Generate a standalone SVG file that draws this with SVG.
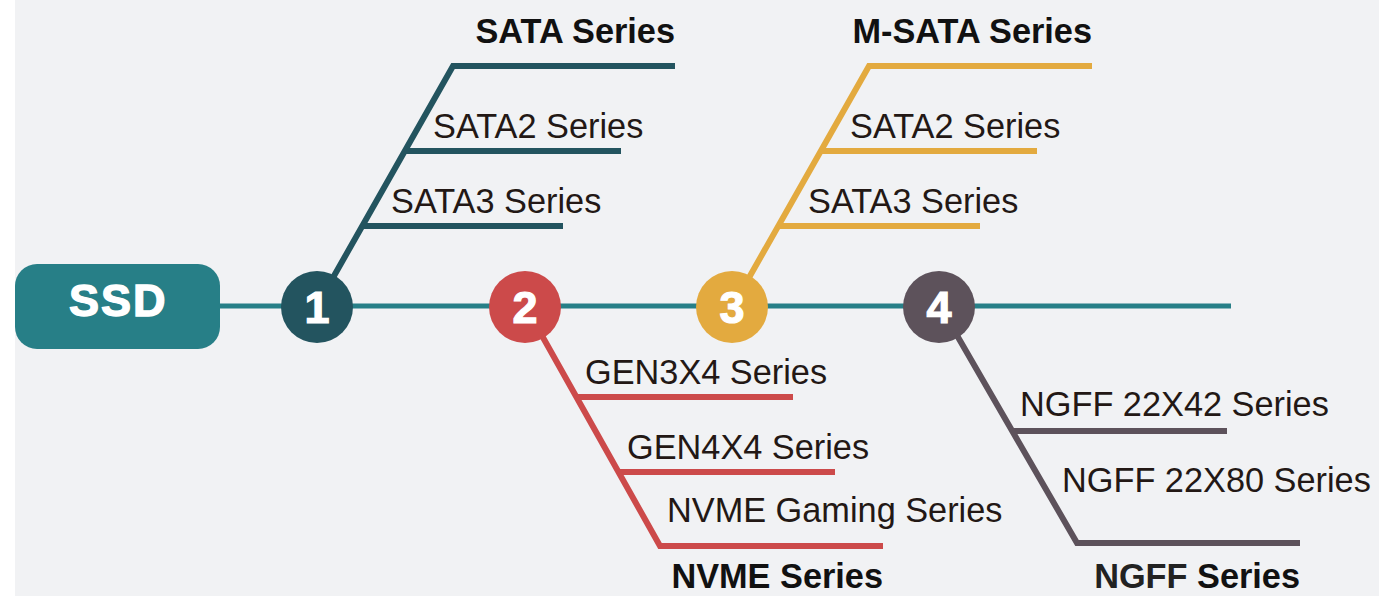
<svg xmlns="http://www.w3.org/2000/svg" width="1379" height="596" viewBox="0 0 1379 596">
<style>
.reg{font-family:"Liberation Sans",Arial,sans-serif;font-size:34.3px;fill:#231815}
.bold{font-family:"Liberation Sans",Arial,sans-serif;font-size:34.3px;font-weight:bold;fill:#111}
.num{font-family:"Liberation Sans",Arial,sans-serif;font-size:45px;font-weight:bold;fill:#fff;stroke:#fff;stroke-width:1.2;text-anchor:middle}
.br{fill:none;stroke-width:6;stroke-linejoin:miter}
</style>
<rect x="0" y="0" width="1379" height="596" fill="#ffffff"/>
<rect x="15" y="0" width="1364" height="596" fill="#f1f2f4"/>
<g id="connectors">
<line x1="220" y1="306" x2="1231" y2="306" stroke="#277f87" stroke-width="5"/>
<path class="br" stroke="#23545f" d="M326,290 L453,66 L675,66 M404,151 L621,151 M361,226 L563,226"/>
<path class="br" stroke="#e3aa3f" d="M742,290 L869,66 L1092,66 M821,151 L1037,151 M778,226 L980,226"/>
<path class="br" stroke="#cc4a4a" d="M536,325 L660,546 L883,546 M575,397 L793,397 M618,472 L835,472"/>
<path class="br" stroke="#5d525b" d="M951,325 L1077,543 L1300,543 M1013,431 L1227,431"/>
</g>
<g id="ssd">
<rect x="15" y="264" width="205" height="85" rx="22" fill="#277f87"/>
<text x="69" y="316" font-family="Liberation Sans,Arial,sans-serif" font-size="45" font-weight="bold" fill="#fff" stroke="#fff" stroke-width="1.4" letter-spacing="2">SSD</text>
</g>
<g id="n1"><circle cx="317" cy="307" r="36" fill="#23545f"/><text class="num" x="317" y="323">1</text></g>
<g id="n2"><circle cx="525" cy="307" r="36" fill="#cc4a4a"/><text class="num" x="525" y="323">2</text></g>
<g id="n3"><circle cx="732" cy="307" r="36" fill="#e3aa3f"/><text class="num" x="732" y="323">3</text></g>
<g id="n4"><circle cx="939" cy="307" r="36" fill="#5d525b"/><text class="num" x="939" y="323">4</text></g>
<g id="sata">
<text class="bold" x="675" y="43" text-anchor="end">SATA Series</text>
<text class="reg" x="433" y="138">SATA2 Series</text>
<text class="reg" x="391" y="213">SATA3 Series</text>
</g>
<g id="msata">
<text class="bold" x="1092" y="43" text-anchor="end">M-SATA Series</text>
<text class="reg" x="850" y="138">SATA2 Series</text>
<text class="reg" x="808" y="213">SATA3 Series</text>
</g>
<g id="nvme">
<text class="reg" x="585" y="384">GEN3X4 Series</text>
<text class="reg" x="627" y="459">GEN4X4 Series</text>
<text class="reg" x="667" y="522">NVME Gaming Series</text>
<text class="bold" x="883" y="588" text-anchor="end">NVME Series</text>
</g>
<g id="ngff">
<text class="reg" x="1020" y="416">NGFF 22X42 Series</text>
<text class="reg" x="1062" y="492">NGFF 22X80 Series</text>
<text class="bold" x="1300" y="588" text-anchor="end"><tspan fill="#222">NGFF</tspan> Series</text>
</g>
</svg>
